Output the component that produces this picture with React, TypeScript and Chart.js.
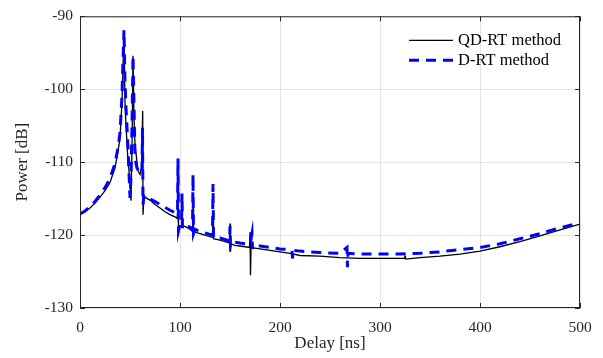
import React, { useEffect, useRef } from "react";
import { Chart, registerables } from "chart.js";

Chart.register(...registerables);

// QD-RT method (black solid)
const qdX = [0, 5, 10, 15, 20, 25, 30, 35, 38, 40, 42, 43, 44, 45, 46, 48, 50, 51, 52, 53, 54, 55, 58, 60, 61.5, 62.7, 63, 64, 66, 70, 75, 80, 85, 90, 95, 97, 98, 98.5, 100, 105, 110, 112.5, 113, 113.5, 115, 120, 125, 130, 132.5, 133, 133.5, 140, 145, 149.5, 150, 150.5, 151, 155, 160, 165, 169.5, 170, 170.5, 171, 175, 180, 190, 200, 210, 212.5, 213, 213.5, 220, 240, 260, 280, 300, 320, 324.5, 325, 325.5, 340, 360, 380, 400, 420, 440, 460, 480, 500];
const qdY = [-117.1, -116.8, -116.3, -115.6, -114.8, -113.9, -112.8, -110.8, -108.5, -106.7, -101.7, -97, -92.1, -101.7, -105, -109.9, -112.5, -115.3, -108, -95.4, -104, -107.6, -111.2, -111.7, -110.8, -103, -117.2, -114.6, -114.9, -115.2, -115.8, -116.3, -116.8, -117.2, -117.5, -117.7, -116.6, -119.1, -118.7, -118.8, -119.2, -119.5, -116, -119.7, -119.6, -119.8, -120, -120.2, -120.3, -116.7, -120.5, -120.7, -120.9, -121.1, -118.4, -122.3, -121.2, -121.4, -121.5, -121.6, -121.7, -119.6, -125.5, -121.8, -121.8, -121.9, -122.1, -122.3, -122.5, -122.6, -123.1, -122.6, -122.8, -122.9, -123.1, -123.2, -123.2, -123.2, -123.2, -122.9, -123.3, -123.1, -122.9, -122.6, -122.2, -121.6, -120.9, -120.1, -119.3, -118.5];

// D-RT method (blue dashed)
const drX = [0, 5, 10, 15, 20, 25, 30, 35, 38, 40, 42, 43, 44, 45, 46, 48, 50, 51, 52, 53, 54, 55, 57, 60, 62, 62.5, 63, 64, 68, 75, 80, 85, 90, 95, 97.5, 98, 98.5, 100, 101.5, 102, 102.5, 105, 110, 112.5, 113, 113.5, 115, 118, 120, 125, 130, 132.5, 133, 133.5, 140, 145, 149.5, 150, 150.5, 152, 160, 170, 172, 172.5, 173, 175, 180, 190, 200, 210, 212, 212.5, 213, 220, 240, 260, 267, 267.5, 268, 280, 290, 300, 320, 340, 360, 365, 380, 400, 420, 440, 460, 480, 500];
const drY = [-117.1, -116.7, -116.1, -115.4, -114.5, -113.5, -112.2, -110.2, -108, -106, -100.8, -96, -91.9, -99, -102.5, -108, -114.9, -112, -105, -95.4, -102, -109.5, -110.8, -111.6, -111, -105.3, -115.8, -114.6, -114.9, -115.4, -115.8, -116.2, -116.6, -116.9, -117, -109.5, -119.4, -118.5, -118.5, -114.3, -119.1, -118.7, -118.9, -119.3, -111.7, -119.8, -119.2, -119.4, -119.5, -119.7, -119.9, -120, -113, -120.4, -120.4, -120.6, -120.8, -118.8, -121.4, -120.9, -121.1, -121.3, -119.8, -121.9, -121.4, -121.4, -121.5, -121.7, -121.9, -122, -122.1, -123.2, -122.1, -122.2, -122.4, -122.5, -121.7, -124.4, -122.5, -122.6, -122.6, -122.6, -122.6, -122.5, -122.3, -122.2, -122, -121.7, -121.2, -120.5, -119.8, -119, -118.3];

const xTicks = [0, 100, 200, 300, 400, 500];
const yTicks = [-130, -120, -110, -100, -90];
const seriesNames = ["QD-RT method", "D-RT method"];

const SERIF = "'Liberation Serif', 'Times New Roman', serif";

const boxPlugin = {
  id: "boxPlugin",
  afterDatasetsDraw(chart: any) {
    const { ctx, chartArea: a, scales } = chart;
    ctx.save();
    ctx.strokeStyle = "#262626";
    ctx.lineWidth = 1;
    ctx.strokeRect(a.left + 0.5, a.top + 0.5, a.right - a.left - 1, a.bottom - a.top - 1);
    const tl = 5;
    ctx.beginPath();
    for (const v of xTicks) {
      const x = Math.round(scales.x.getPixelForValue(v)) + 0.5;
      ctx.moveTo(x, a.bottom);
      ctx.lineTo(x, a.bottom - tl);
      ctx.moveTo(x, a.top);
      ctx.lineTo(x, a.top + tl);
    }
    for (const v of yTicks) {
      const y = Math.round(scales.y.getPixelForValue(v)) + 0.5;
      ctx.moveTo(a.left, y);
      ctx.lineTo(a.left + tl, y);
      ctx.moveTo(a.right, y);
      ctx.lineTo(a.right - tl, y);
    }
    ctx.stroke();

    // legend
    const lx0 = a.left + 329;
    const lx1 = lx0 + 44;
    const rows = [
      { y: a.top + 24, color: "#000000", width: 1.3, dash: [] as number[] },
      { y: a.top + 44, color: "#0000ff", width: 3, dash: [10, 7] },
    ];
    rows.forEach((r, i) => {
      ctx.beginPath();
      ctx.setLineDash(r.dash);
      ctx.strokeStyle = r.color;
      ctx.lineWidth = r.width;
      ctx.moveTo(lx0, r.y);
      ctx.lineTo(lx1, r.y);
      ctx.stroke();
      ctx.setLineDash([]);
      ctx.fillStyle = "#000000";
      ctx.font = `16.5px ${SERIF}`;
      ctx.textBaseline = "middle";
      ctx.textAlign = "left";
      ctx.fillText(seriesNames[i], lx1 + 5, r.y);
    });
    ctx.restore();
  },
};

export default function App() {
  const ref = useRef<HTMLCanvasElement>(null);
  useEffect(() => {
    if (!ref.current) return;
    const chart = new Chart(ref.current, {
      type: "line",
      data: {
        datasets: [
          {
            label: seriesNames[0],
            data: qdX.map((x, i) => ({ x, y: qdY[i] })),
            borderColor: "#000000",
            borderWidth: 1.3,
            pointRadius: 0,
            tension: 0,
            order: 1,
          },
          {
            label: seriesNames[1],
            data: drX.map((x, i) => ({ x, y: drY[i] })),
            borderColor: "#0000ff",
            borderWidth: 3,
            borderDash: [10, 7],
            pointRadius: 0,
            tension: 0,
            order: 0,
          },
        ],
      },
      options: {
        responsive: false,
        animation: false,
        layout: { padding: { top: 14, right: 23, left: 0, bottom: 0 } },
        plugins: { legend: { display: false }, tooltip: { enabled: false } },
        scales: {
          x: {
            type: "linear",
            min: 0,
            max: 500,
            afterFit: (s: any) => { s.height = 50; },
            afterBuildTicks: (s: any) => { s.ticks = xTicks.map((v) => ({ value: v })); },
            grid: { color: "#e3e3e3", drawTicks: false, lineWidth: 1 },
            border: { display: false },
            ticks: { color: "#262626", font: { family: SERIF, size: 15.5 }, padding: 11, maxRotation: 0 },
            title: { display: true, text: "Delay [ns]", color: "#262626", font: { family: SERIF, size: 17 }, padding: { top: 0, bottom: 4 } },
          },
          y: {
            type: "linear",
            min: -130,
            max: -90,
            afterFit: (s: any) => { s.width = 80; },
            afterBuildTicks: (s: any) => { s.ticks = yTicks.map((v) => ({ value: v })); },
            grid: { color: "#e3e3e3", drawTicks: false, lineWidth: 1 },
            border: { display: false },
            ticks: { color: "#262626", font: { family: SERIF, size: 15.5 }, padding: 7 },
            title: { display: true, text: "Power [dB]", color: "#262626", font: { family: SERIF, size: 17 }, padding: { top: 12, bottom: 0 } },
          },
        },
      },
      plugins: [boxPlugin],
    });
    return () => chart.destroy();
  }, []);
  return (
    <div style={{ position: "absolute", left: 0, top: 0, width: 603, height: 358, background: "#fff" }}>
      <canvas ref={ref} width={603} height={358} />
    </div>
  );
}
